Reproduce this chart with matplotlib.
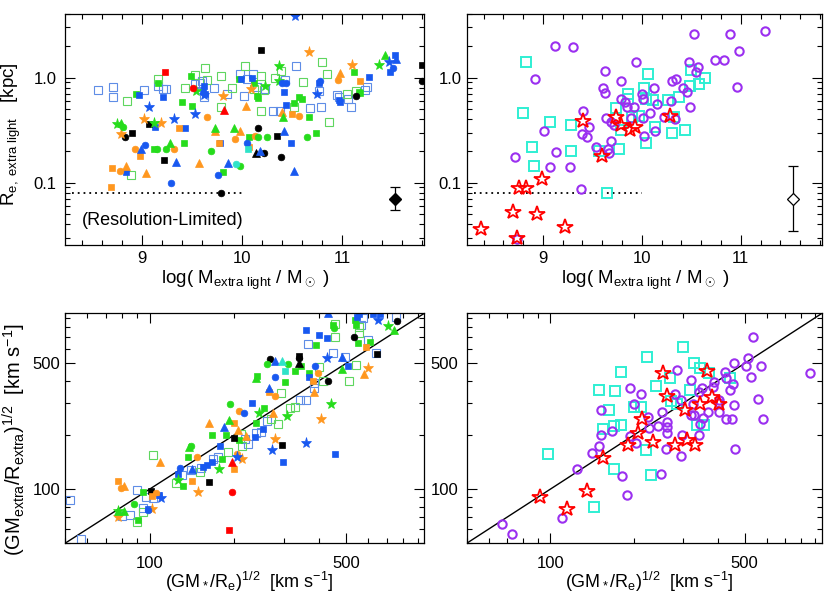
import numpy as np
import matplotlib
matplotlib.use("Agg")
import matplotlib.pyplot as plt
from matplotlib.ticker import FixedLocator, FixedFormatter, LogLocator, NullFormatter, MultipleLocator

plt.rcParams['font.family'] = ['Liberation Sans', 'DejaVu Sans']
plt.rcParams['mathtext.fontset'] = 'custom'
plt.rcParams['mathtext.rm'] = 'Liberation Sans'
plt.rcParams['mathtext.it'] = 'Liberation Sans:italic'
plt.rcParams['mathtext.bf'] = 'Liberation Sans:bold'
plt.rcParams['mathtext.sf'] = 'Liberation Sans'

# ---------------- Top-left: log M_extra vs R_e,extra (kpc) ----------------
m_blu_open = [8.56, 8.71, 8.71, 9.02, 9.16, 9.21, 9.24, 9.58, 9.62, 9.72, 9.85, 9.98, 10.02, 10.05, 10.11, 10.15,
              10.23, 10.31, 10.38, 10.43, 10.54, 10.68, 10.77, 10.79, 10.95, 10.97, 11.06, 11.09, 11.23, 11.25, 9.60, 9.53]
re_blu_open = [0.76, 0.81, 0.65, 0.76, 0.83, 0.77, 0.77, 0.88, 0.65, 0.80, 0.70, 1.08, 0.67, 0.96, 1.08, 0.81,
               0.77, 0.48, 0.48, 0.94, 1.28, 0.51, 0.75, 0.53, 0.68, 0.65, 0.62, 0.53, 0.76, 0.81, 0.93, 0.86]
m_grn_open = [8.89, 8.85, 9.16, 9.43, 9.53, 9.63, 9.65, 9.79, 9.79, 9.90, 10.03, 10.19, 10.19, 10.22, 10.39, 10.61,
              10.80, 10.85, 10.87, 11.05, 11.14, 10.33, 10.52, 10.12]
re_grn_open = [0.118, 0.60, 0.96, 0.80, 1.06, 1.24, 0.94, 1.03, 0.53, 0.80, 1.29, 1.04, 0.48, 0.76, 1.16, 0.91,
               1.40, 1.08, 0.38, 0.70, 0.74, 0.98, 0.53, 0.77]
m_grn_sq = [8.94, 9.12, 9.40, 9.42, 9.49, 9.50, 9.81, 9.97, 10.07, 10.12, 10.15, 10.16, 10.52, 10.57, 10.60, 10.67,
            10.74, 11.12, 11.17, 11.18, 9.16]
re_grn_sq = [0.70, 0.21, 0.58, 0.24, 1.03, 0.54, 0.126, 0.97, 0.27, 0.88, 0.67, 0.64, 0.57, 0.66, 0.62, 0.42,
             0.30, 1.14, 0.73, 0.71, 0.89]
m_blu_sq = [8.84, 8.97, 9.13, 9.21, 9.43, 9.61, 9.62, 9.78, 9.99, 10.10, 10.42, 10.44, 10.49, 10.77, 10.97, 10.98,
            11.27, 11.48, 11.53, 9.63]
re_blu_sq = [0.126, 0.68, 0.34, 0.66, 0.33, 0.75, 0.84, 0.24, 0.96, 1.0, 0.73, 0.55, 0.24, 0.89, 0.61, 0.58,
             1.01, 1.13, 1.63, 0.69]
m_blk_sq = [8.90, 9.07, 9.22, 10.19, 10.35, 11.80]
re_blk_sq = [0.30, 0.36, 0.164, 1.82, 0.28, 1.31]
m_blk_ci = [8.83, 9.79, 10.16, 10.22, 10.39, 11.14, 11.80]
re_blk_ci = [0.27, 0.080, 0.33, 0.19, 0.177, 0.67, 0.92]
m_blk_tri = [10.14]
re_blk_tri = [0.19]
m_org_sq = [8.70, 8.69, 8.98, 9.37, 9.77, 10.07, 10.50, 11.18]
re_org_sq = [0.138, 0.090, 0.18, 0.33, 0.24, 0.22, 0.45, 0.92]
m_org_ci = [8.78, 8.93, 9.32, 9.65, 9.93, 10.13, 10.57, 10.96]
re_org_ci = [0.13, 0.21, 0.21, 0.42, 0.26, 0.28, 0.43, 0.94]
m_org_tri = [8.84, 9.04, 9.57, 9.73, 9.98, 10.04, 10.40, 10.98]
re_org_tri = [0.145, 0.123, 0.154, 0.31, 0.31, 0.54, 0.47, 1.11]
m_org_st = [8.79, 9.02, 9.19, 9.81, 10.09, 10.67, 11.10]
re_org_st = [0.29, 0.40, 0.37, 0.67, 0.77, 1.75, 1.33]
m_grn_tri = [8.79, 9.28, 9.73, 9.92, 10.41, 11.43]
re_grn_tri = [0.37, 0.24, 0.33, 0.33, 0.42, 1.63]
m_grn_st = [8.75, 9.12, 10.37, 10.37, 10.23, 11.37, 9.54]
re_grn_st = [0.36, 0.37, 1.28, 0.93, 0.84, 1.33, 0.75]
m_grn_ci = [8.81, 9.15, 9.24, 9.69, 9.98, 10.16, 10.25, 10.65]
re_grn_ci = [0.34, 0.21, 0.21, 0.20, 0.144, 0.27, 0.27, 0.27]
m_blu_ci = [9.03, 9.29, 9.76, 10.40, 10.44, 10.78, 11.51, 10.05]
re_blu_ci = [0.23, 0.099, 0.118, 0.88, 0.88, 0.92, 1.24, 0.24]
m_blu_tri = [8.99, 9.34, 9.86, 10.18, 10.42, 10.52, 11.54]
re_blu_tri = [0.21, 0.156, 0.154, 0.20, 0.31, 0.13, 1.51]
m_blu_st = [9.07, 9.32, 9.53, 9.62, 10.53, 10.75, 11.47]
re_blu_st = [0.53, 0.40, 0.45, 0.68, 3.82, 0.70, 1.40]
m_red_sq, re_red_sq = [9.23], [1.12]
m_red_ci, re_red_ci = [9.51], [0.79]
m_red_tri, re_red_tri = [9.82], [0.49]
m_cyn_sq, re_cyn_sq = [10.06], [0.21]
m_cyn_ci, re_cyn_ci = [9.94], [0.149]

# ---------------- Bottom-left: (GM*/Re)^1/2 vs (GMextra/Rextra)^1/2 ----------------
vs_blu_open = [52, 57, 80, 85, 90, 95, 97, 103, 130, 140, 153, 168, 175, 218, 224, 239, 250, 262, 344, 359,
               366, 386, 386, 448, 494, 565, 576, 598, 640, 753]
ve_blu_open = [87, 53, 71, 72, 99, 79, 90, 89, 120, 128, 131, 148, 151, 189, 179, 204, 208, 239, 312, 315,
               640, 367, 390, 573, 540, 813, 889, 679, 573, 908]
vs_grn_open = [103, 124, 151, 90, 95, 190, 212, 214, 270, 286, 294, 316, 329, 400, 413, 458, 458, 511, 543, 558, 555]
ve_grn_open = [155, 108, 125, 66, 75, 161, 202, 173, 244, 230, 343, 281, 287, 479, 401, 828, 703, 401, 490, 800, 740]
vs_grn_sq = [91, 95, 132, 137, 167, 181, 187, 208, 239, 241, 256, 303, 328, 346, 370, 391, 448, 538, 543, 550, 609]
ve_grn_sq = [67, 97, 104, 151, 200, 147, 200, 187, 232, 425, 283, 395, 453, 483, 444, 632, 817, 871, 817, 652, 660]
vs_blu_sq = [99, 108, 126, 155, 160, 167, 178, 231, 254, 238, 298, 361, 370, 402, 427, 458, 507, 546, 555, 625, 662]
ve_blu_sq = [78, 93, 121, 132, 136, 141, 173, 302, 215, 194, 141, 765, 421, 719, 689, 157, 483, 902, 945, 940, 945]
vs_blk_sq = [101, 163, 200, 296, 339, 644]
ve_blk_sq = [98, 109, 193, 176, 550, 561]
vs_blk_ci = [268, 339, 430, 535, 759]
ve_blk_ci = [526, 533, 399, 703, 863]
vs_blk_tri = [339]
ve_blk_tri = [505]
vs_org_sq = [77, 102, 141, 200, 199, 267, 383, 589]
ve_org_sq = [111, 92, 111, 234, 129, 347, 401, 614]
vs_org_ci = [79, 105, 147, 205, 208, 279, 396]
ve_org_ci = [102, 95, 151, 157, 273, 329, 440]
vs_org_tri = [81, 109, 163, 207, 221, 275, 386, 581]
ve_org_tri = [104, 142, 234, 213, 197, 266, 347, 437]
vs_org_st = [77, 102, 149, 214, 280, 406, 598]
ve_org_st = [70, 78, 97, 148, 190, 247, 469]
vs_grn_tri = [77, 81, 138, 191, 239, 484, 743]
ve_grn_tri = [76, 76, 171, 242, 416, 463, 765]
vs_grn_st = [77, 126, 176, 246, 308, 443, 703]
ve_grn_st = [76, 112, 130, 266, 256, 297, 806]
vs_grn_ci = [88, 140, 194, 262, 312, 452]
ve_grn_ci = [83, 174, 296, 494, 494, 783]
vs_blu_ci = [99, 128, 216, 279, 387]
ve_blu_ci = [77, 131, 266, 421, 483]
vs_blu_tri = [141, 184, 266, 280, 430, 484]
ve_blu_tri = [130, 222, 366, 515, 948, 545]
vs_blu_st = [110, 204, 272, 359, 427, 649]
ve_blu_st = [89, 150, 166, 181, 533, 871]
vs_red_ci, ve_red_ci = [196], [97]
vs_red_sq, ve_red_sq = [191], [59]
vs_red_tri, ve_red_tri = [196], [142]
vs_cyn_sq, ve_cyn_sq = [304], [455]
vs_cyn_tri, ve_cyn_tri = [296], [515]

# ---------------- Top-right ----------------
m_purple = [9.12, 9.30, 8.92, 9.01, 8.72, 9.07, 9.13, 9.27, 9.38, 9.41, 9.39, 9.45, 9.47, 9.54, 9.63, 9.61, 9.63,
            9.64, 9.66, 9.67, 9.69, 9.69, 9.72, 9.79, 9.79, 9.83, 9.85, 9.92, 9.89, 9.94, 10.00, 10.01, 10.01,
            10.02, 10.08, 10.12, 10.15, 10.13, 10.22, 10.30, 10.34, 10.29, 10.33, 10.42, 10.46, 10.48, 10.49,
            10.53, 10.55, 10.57, 10.74, 10.83, 10.89, 10.98, 10.96, 11.24, 8.74]
re_purple = [1.98, 1.95, 0.96, 0.31, 0.174, 0.142, 0.194, 0.14, 0.087, 0.48, 0.29, 0.27, 0.34, 0.22, 1.16, 0.80,
             0.71, 0.41, 0.21, 0.19, 0.25, 0.38, 0.35, 0.93, 0.63, 0.59, 0.53, 0.53, 0.41, 1.41, 0.69, 0.62, 0.41,
             0.28, 0.46, 0.80, 0.56, 0.31, 0.42, 0.92, 0.96, 0.60, 0.40, 0.79, 0.73, 1.41, 0.53, 2.58, 1.13, 1.26,
             1.46, 1.48, 2.62, 1.78, 0.81, 2.77, 0.029]
m_cyan = [8.83, 8.80, 9.07, 8.89, 9.28, 9.28, 8.91, 9.65, 9.57, 9.74, 9.77, 9.79, 9.86, 9.86, 9.90, 9.97, 10.02,
          10.06, 10.04, 10.11, 10.13, 10.26, 10.30, 10.32, 10.38, 10.44, 10.49, 10.50, 10.58, 10.64, 10.04]
re_cyan = [1.41, 0.46, 0.38, 0.22, 0.35, 0.20, 0.145, 0.079, 0.20, 0.51, 0.21, 0.32, 0.70, 0.63, 0.42, 0.43, 0.80,
           1.08, 0.24, 0.61, 0.34, 0.61, 0.30, 0.42, 0.65, 0.32, 0.83, 1.17, 0.86, 1.0, 0.63]
m_redstar = [8.37, 8.70, 8.94, 9.22, 8.74, 8.76, 8.83, 8.99, 9.41, 9.60, 9.74, 9.79, 9.88, 9.93, 10.28]
re_redstar = [0.036, 0.052, 0.050, 0.038, 0.030, 0.088, 0.088, 0.108, 0.39, 0.18, 0.42, 0.35, 0.32, 0.34, 0.43]

# ---------------- Bottom-right ----------------
vs_purple = [67, 73, 110, 125, 141, 150, 152, 152, 167, 181, 188, 193, 194, 200, 203, 212, 224, 226, 245, 250, 253,
             260, 262, 262, 264, 280, 285, 295, 295, 297, 320, 322, 327, 328, 343, 347, 350, 343, 355, 369, 385,
             389, 403, 406, 406, 426, 430, 430, 444, 451, 453, 457, 463, 459, 507, 513, 528, 535, 561, 572, 581, 857]
ve_purple = [64, 56, 69, 130, 159, 174, 200, 277, 211, 119, 93, 197, 367, 299, 180, 340, 251, 219, 224, 122, 269,
             168, 222, 204, 237, 338, 459, 312, 153, 200, 258, 407, 299, 258, 200, 230, 367, 345, 249, 269, 371,
             392, 315, 302, 269, 450, 413, 244, 355, 244, 384, 293, 168, 506, 485, 533, 421, 703, 319, 485, 244, 444]
vs_cyan = [98, 144, 150, 163, 171, 170, 155, 170, 180, 180, 200, 212, 223, 221, 230, 240, 269, 271, 285, 299, 318,
           328, 336, 357, 347, 372, 444]
ve_cyan = [157, 80, 358, 277, 352, 130, 217, 225, 227, 446, 287, 287, 540, 165, 120, 374, 413, 308, 299, 619, 355,
           505, 227, 227, 469, 444, 416]
vs_redstar = [92, 115, 136, 155, 191, 206, 213, 235, 255, 262, 281, 305, 331, 347, 365, 383, 406, 311]
ve_redstar = [90, 78, 98, 149, 176, 206, 247, 183, 440, 329, 177, 275, 176, 299, 455, 324, 299, 187]

# typical error bars
err_m = [11.53]
err_re = [0.070]
err_re_lo_tl, err_re_hi_tl = [0.055], [0.090]
err_re_lo_tr, err_re_hi_tr = [0.035], [0.145]
res_limit = 0.08

# ---------------- styles ----------------
BLK = 'black'
BLU = '#1858f0'
BLU_L = '#5f8de6'
GRN = '#26dc1c'
GRN_L = '#5fd65f'
ORG = '#ff971f'
RED = '#ff0000'
CYN = '#2fe3c8'
PUR = '#9b2ff0'
CYN2 = '#2fefd3'

left_groups = [
    (m_blu_open, re_blu_open, vs_blu_open, ve_blu_open, 's', BLU_L, True),
    (m_grn_open, re_grn_open, vs_grn_open, ve_grn_open, 's', GRN_L, True),
    (m_grn_sq, re_grn_sq, vs_grn_sq, ve_grn_sq, 's', GRN, False),
    (m_blu_sq, re_blu_sq, vs_blu_sq, ve_blu_sq, 's', BLU, False),
    (m_blk_sq, re_blk_sq, vs_blk_sq, ve_blk_sq, 's', BLK, False),
    (m_blk_ci, re_blk_ci, vs_blk_ci, ve_blk_ci, 'o', BLK, False),
    (m_blk_tri, re_blk_tri, vs_blk_tri, ve_blk_tri, '^', BLK, False),
    (m_org_sq, re_org_sq, vs_org_sq, ve_org_sq, 's', ORG, False),
    (m_org_ci, re_org_ci, vs_org_ci, ve_org_ci, 'o', ORG, False),
    (m_org_tri, re_org_tri, vs_org_tri, ve_org_tri, '^', ORG, False),
    (m_org_st, re_org_st, vs_org_st, ve_org_st, '*', ORG, False),
    (m_grn_tri, re_grn_tri, vs_grn_tri, ve_grn_tri, '^', GRN, False),
    (m_grn_st, re_grn_st, vs_grn_st, ve_grn_st, '*', GRN, False),
    (m_grn_ci, re_grn_ci, vs_grn_ci, ve_grn_ci, 'o', GRN, False),
    (m_blu_ci, re_blu_ci, vs_blu_ci, ve_blu_ci, 'o', BLU, False),
    (m_blu_tri, re_blu_tri, vs_blu_tri, ve_blu_tri, '^', BLU, False),
    (m_blu_st, re_blu_st, vs_blu_st, ve_blu_st, '*', BLU, False),
    (m_red_sq, re_red_sq, vs_red_sq, ve_red_sq, 's', RED, False),
    (m_red_ci, re_red_ci, vs_red_ci, ve_red_ci, 'o', RED, False),
    (m_red_tri, re_red_tri, vs_red_tri, ve_red_tri, '^', RED, False),
    (m_cyn_sq, re_cyn_sq, vs_cyn_sq, ve_cyn_sq, 's', CYN, False),
    (m_cyn_ci, re_cyn_ci, [], [], 'o', CYN, False),
    ([], [], vs_cyn_tri, ve_cyn_tri, '^', CYN, False),
]
msize = {'s': 4.6, 'o': 4.8, '^': 5.2, '*': 8.0}

fig = plt.figure(figsize=(8.3, 5.96), dpi=100)
W, H = 830.0, 596.0
def pos(x0, x1, ytop, ybot):
    return [x0 / W, 1 - ybot / H, (x1 - x0) / W, (ybot - ytop) / H]

ax_tl = fig.add_axes(pos(65, 424.3, 14.3, 245))
ax_tr = fig.add_axes(pos(466.7, 822, 14.3, 245))
ax_bl = fig.add_axes(pos(65, 424.3, 313.3, 543.3))
ax_br = fig.add_axes(pos(466.7, 822, 313.3, 543.3))

TICKFS = 12
for ax in (ax_tl, ax_tr, ax_bl, ax_br):
    for s in ax.spines.values():
        s.set_linewidth(0.9)
    ax.tick_params(which='both', direction='in', top=True, right=True, labelsize=TICKFS, width=0.8)
    ax.tick_params(which='major', length=7)
    ax.tick_params(which='minor', length=3.5)

ax_tl.tick_params(axis='x', which='major', pad=4.5)
ax_tr.tick_params(axis='x', which='major', pad=4.5)
ax_bl.tick_params(axis='x', which='major', pad=9.0)
ax_br.tick_params(axis='x', which='major', pad=9.0)
ax_tl.tick_params(axis='y', which='major', pad=6.0)
ax_tr.tick_params(axis='y', which='major', pad=3.5)
ax_bl.tick_params(axis='y', which='major', pad=3.5)
ax_br.tick_params(axis='y', which='major', pad=6.0)

for ax in (ax_tl, ax_tr):
    ax.set_yscale('log')
    ax.set_xlim(8.23, 11.82)
    ax.set_ylim(0.0255, 4.0)
    ax.xaxis.set_major_locator(FixedLocator([9, 10, 11]))
    ax.xaxis.set_major_formatter(FixedFormatter(['9', '10', '11']))
    ax.xaxis.set_minor_locator(MultipleLocator(0.2))
    ax.yaxis.set_major_locator(FixedLocator([0.1, 1.0]))
    ax.yaxis.set_major_formatter(FixedFormatter(['0.1', '1.0']))
    ax.yaxis.set_minor_locator(LogLocator(base=10, subs=np.arange(2, 10)))
    ax.yaxis.set_minor_formatter(NullFormatter())
    ax.plot([8.3, 10.0], [res_limit, res_limit], ls=(0, (1, 2.2)), color='black', lw=1.3)

for ax in (ax_bl, ax_br):
    ax.set_xscale('log')
    ax.set_yscale('log')
    ax.set_xlim(50, 950)
    ax.set_ylim(50, 950)
    for axis in (ax.xaxis, ax.yaxis):
        axis.set_major_locator(FixedLocator([100, 500]))
        axis.set_major_formatter(FixedFormatter(['100', '500']))
        axis.set_minor_locator(LogLocator(base=10, subs=np.arange(1, 10)))
        axis.set_minor_formatter(NullFormatter())
    ax.plot([50, 950], [50, 950], color='black', lw=1.0)

for (mx, rx, vsx, vex, mk, col, op) in left_groups:
    ms = msize[mk] + (0.9 if op else 0)
    kw = dict(ls='none', marker=mk, ms=ms)
    if op:
        kw.update(mfc='none', mec=col, mew=0.8)
    else:
        kw.update(mfc=col, mec=col, mew=0.5)
    if len(mx):
        ax_tl.plot(mx, rx, **kw)
    if len(vsx):
        ax_bl.plot(vsx, vex, **kw)

# right panels
ax_tr.plot(m_cyan, re_cyan, ls='none', marker='s', ms=6.6, mfc='none', mec=CYN2, mew=1.4)
ax_tr.plot(m_purple, re_purple, ls='none', marker='o', ms=6.0, mfc='none', mec=PUR, mew=1.5)
ax_tr.plot(m_redstar, re_redstar, ls='none', marker='*', ms=11.5, mfc='none', mec=RED, mew=1.3)
ax_br.plot(vs_cyan, ve_cyan, ls='none', marker='s', ms=6.6, mfc='none', mec=CYN2, mew=1.4)
ax_br.plot(vs_purple, ve_purple, ls='none', marker='o', ms=6.0, mfc='none', mec=PUR, mew=1.5)
ax_br.plot(vs_redstar, ve_redstar, ls='none', marker='*', ms=11.5, mfc='none', mec=RED, mew=1.3)

# error bars
ax_tl.errorbar(err_m, err_re,
               yerr=[np.array(err_re) - np.array(err_re_lo_tl), np.array(err_re_hi_tl) - np.array(err_re)],
               fmt='D', color='black', ms=6, capsize=3.5, elinewidth=0.9, capthick=0.9)
ax_tr.errorbar(err_m, err_re,
               yerr=[np.array(err_re) - np.array(err_re_lo_tr), np.array(err_re_hi_tr) - np.array(err_re)],
               fmt='D', color='black', mfc='white', ms=6, mew=0.9, capsize=3.5, elinewidth=0.9, capthick=0.9)

ax_tl.text(8.4, 0.044, '(Resolution-Limited)', fontsize=13, ha='left', va='center')

xl_top = r'log( M$_{\rm extra\ light}$ / M$_\odot$ )'
xl_bot = r'(GM$_*$/R$_{\rm e}$)$^{1/2}$  [km s$^{-1}$]'
fig.text(245 / W, 1 - 280 / H, xl_top, fontsize=13.5, ha='center', va='center')
fig.text(645 / W, 1 - 280 / H, xl_top, fontsize=13.5, ha='center', va='center')
fig.text(249 / W, 1 - 582 / H, xl_bot, fontsize=13, ha='center', va='center')
fig.text(649 / W, 1 - 582 / H, xl_bot, fontsize=13, ha='center', va='center')
fig.text(11 / W, 1 - 134 / H, r'R$_{\rm e,\ extra\ light}$   [kpc]', fontsize=13.5, rotation=90,
         ha='center', va='center')
fig.text(14 / W, 1 - 440 / H, r'(GM$_{\rm extra}$/R$_{\rm extra}$)$^{1/2}$  [km s$^{-1}$]', fontsize=14.5,
         rotation=90, ha='center', va='center')

fig.savefig('out.png', dpi=100)
